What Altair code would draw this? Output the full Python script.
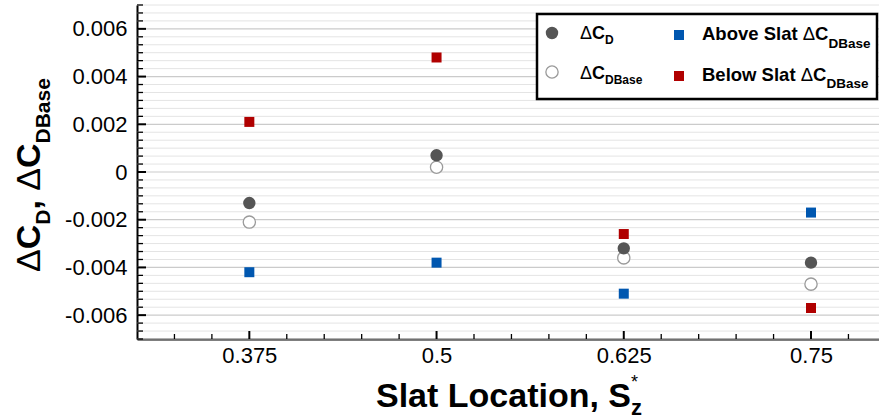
import altair as alt
import pandas as pd

# ---------------- data ----------------
SLAT_LOCATIONS = [0.375, 0.5, 0.625, 0.75]
DELTA_CD = [-0.0013, 0.0007, -0.0032, -0.0038]
DELTA_CDBASE = [-0.0021, 0.0002, -0.0036, -0.0047]
ABOVE_SLAT_CDBASE = [-0.0042, -0.0038, -0.0051, -0.0017]
BELOW_SLAT_CDBASE = [0.0021, 0.0048, -0.0026, -0.0057]

X_MAJOR_TICKS = [0.375, 0.5, 0.625, 0.75]
X_MINOR_TICKS = [0.325, 0.35, 0.4, 0.425, 0.45, 0.475, 0.525, 0.55, 0.575,
                 0.6, 0.65, 0.675, 0.7, 0.725, 0.775]
Y_MAJOR_TICKS = [-0.006, -0.004, -0.002, 0.0, 0.002, 0.004, 0.006]
Y_MINOR_TICKS = [round(k / 3000, 7) for k in range(-21, 22) if k % 6 != 0]

X_DOMAIN = [0.3, 0.7954]
Y_DOMAIN = [-0.007, 0.007]

# ---------------- layout ----------------
W, H = 742, 334
OX, OY = 137, 5
FONT = "Liberation Sans"
ONE = alt.Data(values=[{"a": 1}])

xscale = alt.Scale(domain=X_DOMAIN, nice=False, zero=False)
yscale = alt.Scale(domain=Y_DOMAIN, nice=False, zero=False)

LBL = "replace(format(datum.value, '.3~f'), '\u2212', '-')"
xaxis = alt.Axis(values=X_MAJOR_TICKS, title=None, grid=False, ticks=False,
                 domainColor="black", domainWidth=2, labelFont=FONT,
                 labelFontSize=22, labelColor="black", labelPadding=6,
                 labelExpr=LBL)
yaxis = alt.Axis(values=Y_MAJOR_TICKS, title=None, grid=False, ticks=False,
                 domainColor="black", domainWidth=2, labelFont=FONT,
                 labelFontSize=22, labelColor="black", labelPadding=10,
                 labelExpr=LBL)


def X(field="x"):
    return alt.X(f"{field}:Q", scale=xscale, axis=xaxis)


def Y(field="v"):
    return alt.Y(f"{field}:Q", scale=yscale, axis=yaxis)


def series_df(vals):
    return pd.DataFrame({"x": SLAT_LOCATIONS, "v": vals})


layers = []

# grid lines
layers.append(alt.Chart(pd.DataFrame({"v": Y_MINOR_TICKS})).mark_rule(
    color="#e4e4e4", strokeWidth=1).encode(y=Y(), x=alt.value(0), x2=alt.value(W)))
layers.append(alt.Chart(pd.DataFrame({"v": Y_MAJOR_TICKS})).mark_rule(
    color="#cbcbcb", strokeWidth=1.2).encode(y=Y(), x=alt.value(0), x2=alt.value(W)))

# inward ticks
layers.append(alt.Chart(pd.DataFrame({"v": Y_MINOR_TICKS})).mark_rule(
    color="black", strokeWidth=1.3).encode(y=Y(), x=alt.value(0), x2=alt.value(6)))
layers.append(alt.Chart(pd.DataFrame({"v": Y_MAJOR_TICKS})).mark_rule(
    color="black", strokeWidth=2).encode(y=Y(), x=alt.value(0), x2=alt.value(9)))
layers.append(alt.Chart(pd.DataFrame({"x": X_MINOR_TICKS})).mark_rule(
    color="black", strokeWidth=1.3).encode(x=X(), y=alt.value(H), y2=alt.value(H - 5)))
layers.append(alt.Chart(pd.DataFrame({"x": X_MAJOR_TICKS})).mark_rule(
    color="black", strokeWidth=2).encode(x=X(), y=alt.value(H), y2=alt.value(H - 8)))

# data
C_GRAY = "#555555"
C_HOLLOW = "#9a9a9a"
C_BLUE = "#0057b0"
C_RED = "#b00000"

layers.append(alt.Chart(series_df(ABOVE_SLAT_CDBASE)).mark_square(
    size=100, color=C_BLUE, opacity=1).encode(x=X(), y=Y()))
layers.append(alt.Chart(series_df(BELOW_SLAT_CDBASE)).mark_square(
    size=100, color=C_RED, opacity=1).encode(x=X(), y=Y()))
layers.append(alt.Chart(series_df(DELTA_CDBASE)).mark_circle(
    size=150, fill="white", stroke=C_HOLLOW, strokeWidth=1.3, opacity=1).encode(x=X(), y=Y()))
layers.append(alt.Chart(series_df(DELTA_CD)).mark_circle(
    size=154, color=C_GRAY, opacity=1).encode(x=X(), y=Y()))

# ---------------- rich text helper ----------------
BOLD_W = {'A': .722, 'b': .611, 'o': .611, 'v': .556, 'e': .556, ' ': .278,
          'S': .667, 'l': .278, 'a': .556, 't': .333, 'B': .722, 'w': .778,
          'C': .722, 'D': .722, 's': .556, 'L': .611, 'c': .556, 'i': .278,
          'n': .611, ',': .278, 'z': .5, '*': .389}
REG_W = {'Δ': .667, '*': .389}


def text_run(segments, x0, y0, angle=0):
    """segments: (text, size, bold, shift, advance) ; x0,y0 absolute px"""
    out = []
    pos = 0.0
    for txt, size, bold, shift, adv in segments:
        if angle == 0:
            x, y = x0 + pos, y0 + shift
        else:
            x, y = x0 + shift, y0 - pos
        kw = dict(text=txt, font=FONT, fontSize=size,
                  fontWeight="bold" if bold else "normal", align="left",
                  baseline="alphabetic", color="black")
        if angle:
            kw["angle"] = angle
        out.append(alt.Chart(ONE).mark_text(**kw).encode(
            x=alt.value(x - OX), y=alt.value(y - OY)))
        if adv:
            table = BOLD_W if bold else REG_W
            pos += sum(table.get(ch, BOLD_W.get(ch, .6)) for ch in txt) * size
    return out


# ---------------- legend ----------------
layers.append(alt.Chart(ONE).mark_rect(fill="white", stroke="black", strokeWidth=2.5).encode(
    x=alt.value(537 - OX), x2=alt.value(877 - OX), y=alt.value(14 - OY), y2=alt.value(99 - OY)))
layers.append(alt.Chart(ONE).mark_circle(size=154, color=C_GRAY, opacity=1).encode(
    x=alt.value(552 - OX), y=alt.value(33 - OY)))
layers.append(alt.Chart(ONE).mark_circle(size=150, fill="white", stroke=C_HOLLOW,
                                          strokeWidth=1.3, opacity=1).encode(
    x=alt.value(552 - OX), y=alt.value(72 - OY)))
layers.append(alt.Chart(ONE).mark_square(size=100, color=C_BLUE, opacity=1).encode(
    x=alt.value(679 - OX), y=alt.value(35 - OY)))
layers.append(alt.Chart(ONE).mark_square(size=100, color=C_RED, opacity=1).encode(
    x=alt.value(679 - OX), y=alt.value(76 - OY)))

layers += text_run([("Δ", 18, False, 0, True), ("C", 18, True, 0, True),
                    ("D", 12, True, 5, True)], 580, 39)
layers += text_run([("Δ", 18, False, 0, True), ("C", 18, True, 0, True),
                    ("DBase", 12, True, 5, True)], 580, 79)
layers += text_run([("Above Slat ", 18.5, True, 0, True), ("Δ", 18.5, False, 0, True),
                    ("C", 18.5, True, 0, True), ("DBase", 13.5, True, 8, True)], 702, 40)
layers += text_run([("Below Slat ", 18.5, True, 0, True), ("Δ", 18.5, False, 0, True),
                    ("C", 18.5, True, 0, True), ("DBase", 13.5, True, 7, True)], 702, 81)

# ---------------- axis titles ----------------
layers += text_run([("Slat Location, S", 34, True, 0, True),
                    ("*", 18, False, -19, False),
                    ("z", 22, True, 8, True)], 376, 407)
layers += text_run([("Δ", 34, False, 0, True), ("C", 34, True, 0, True),
                    ("D", 21, True, 10, True), (", ", 34, True, 0, True),
                    ("Δ", 34, False, 0, True), ("C", 34, True, 0, True),
                    ("DBase", 21, True, 10, True)], 40, 272, angle=270)

chart = alt.layer(*layers).properties(
    width=W, height=H,
    padding={"left": OX, "top": OY, "right": 0, "bottom": 420 - OY - H},
    autosize=alt.AutoSizeParams(type="none"),
).configure_view(strokeWidth=0)

chart.save("out.html", embed_options={"renderer": "svg", "actions": False})
